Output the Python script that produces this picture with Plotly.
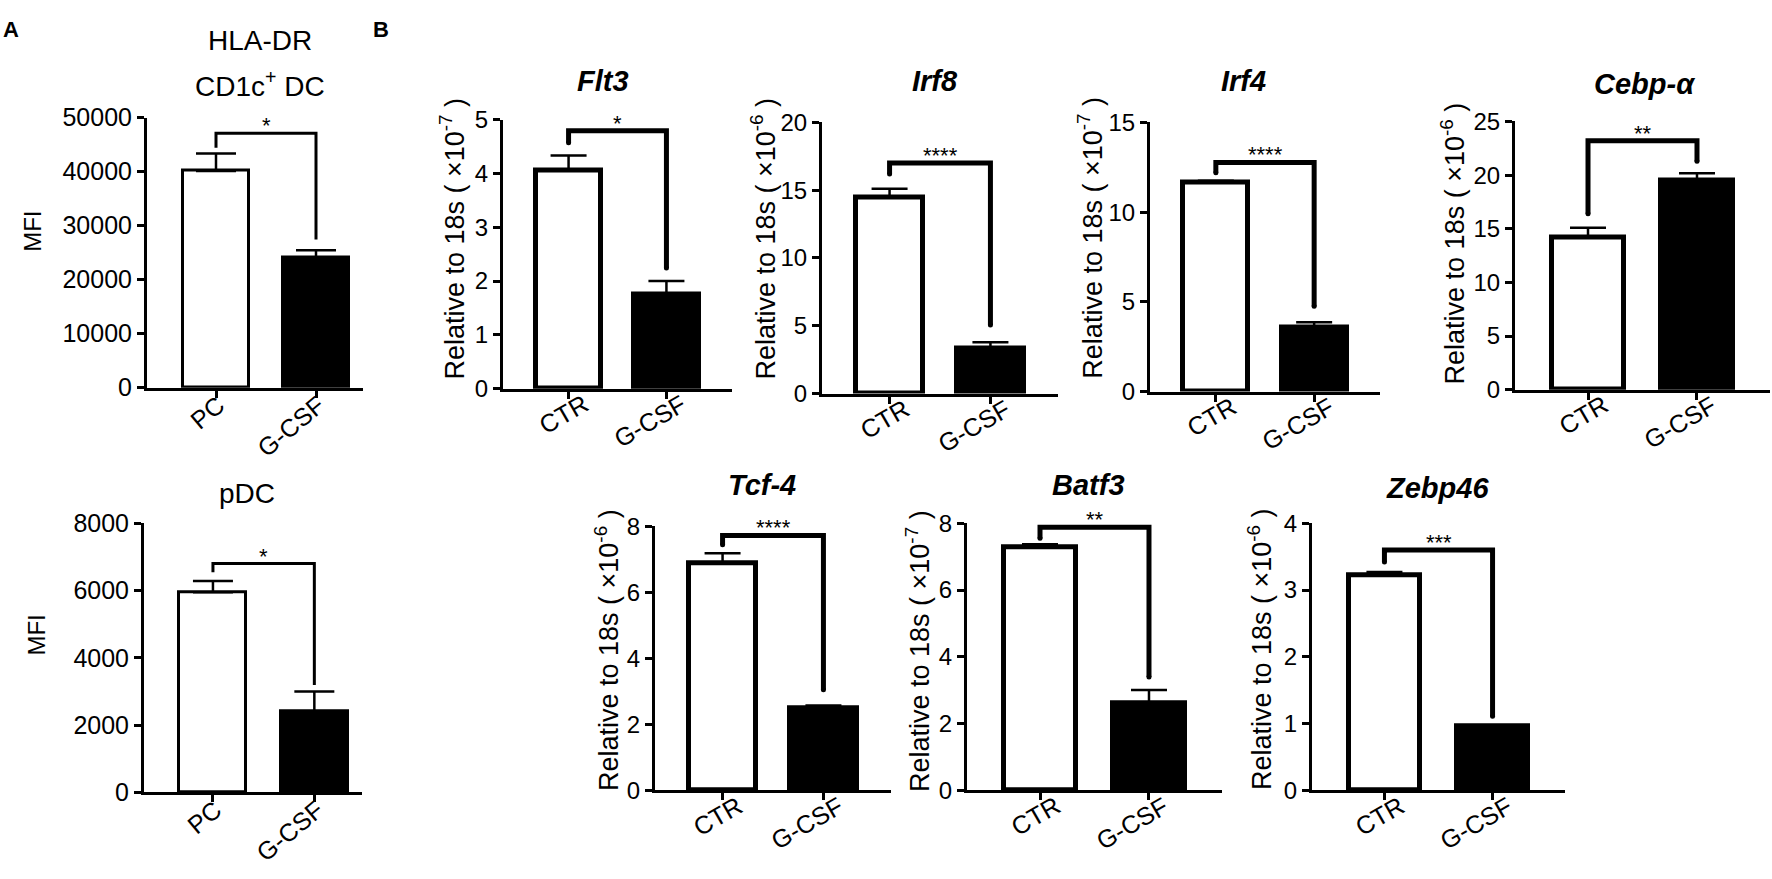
import plotly.graph_objects as go

W, H = 1772, 879

# ---- values ----
a_groups = ["PC", "G-CSF"]
b_groups = ["CTR", "G-CSF"]

# mean, upper end of the error bar, bracket (left leg end, height, right leg end)
hla_mean = [40100, 24000]
hla_upper = [43370, 25450]
hla_bracket = [44440, 47080, 27420]

pdc_mean = [5950, 2400]
pdc_upper = [6280, 3000]
pdc_bracket = [6540, 6800, 3190]

flt3_mean = [4.05, 1.75]
flt3_upper = [4.33, 2.0]
flt3_bracket = [4.57, 4.79, 2.24]

irf8_mean = [14.45, 3.3]
irf8_upper = [15.1, 3.79]
irf8_bracket = [16.2, 17.0, 5.05]

irf4_mean = [11.65, 3.6]
irf4_upper = [11.75, 3.87]
irf4_bracket = [12.19, 12.77, 4.76]

cebp_mean = [14.2, 19.5]
cebp_upper = [15.1, 20.17]
cebp_bracket = [16.4, 23.2, 21.3]

tcf4_mean = [6.88, 2.49]
tcf4_upper = [7.18, 2.57]
tcf4_bracket = [7.44, 7.72, 3.05]

batf3_mean = [7.28, 2.62]
batf3_upper = [7.37, 3.01]
batf3_bracket = [7.55, 7.88, 3.40]

zebp_mean = [3.22, 0.96]
zebp_upper = [3.27, 0.97]
zebp_bracket = [3.42, 3.6, 1.11]

# ---- panel table: data + where each panel sits (pixels) ----
panels = [
    dict(title="", groups=a_groups, mean=hla_mean, upper=hla_upper, br=hla_bracket, stars="*",
         ymax=50000, dtick=10000, exp=None, box=(147, 363, 107, 386), xr=(-0.69, 1.47),
         lab=(33, 225), big=True),
    dict(title="", groups=a_groups, mean=pdc_mean, upper=pdc_upper, br=pdc_bracket, stars="*",
         ymax=8000, dtick=2000, exp=None, box=(144, 362, 526, 804), xr=(-0.68, 1.47),
         lab=(37, 642), big=True),
    dict(title="Flt3", groups=b_groups, mean=flt3_mean, upper=flt3_upper, br=flt3_bracket, stars="*",
         ymax=5, dtick=1, exp=-7, box=(503, 732, 109, 387), xr=(-0.67, 1.67),
         lab=(452, 232), big=False, tpos=(603, 69)),
    dict(title="Irf8", groups=b_groups, mean=irf8_mean, upper=irf8_upper, br=irf8_bracket, stars="****",
         ymax=20, dtick=5, exp=-6, box=(822, 1058, 112, 392), xr=(-0.67, 1.67),
         lab=(763, 232), big=False, tpos=(935, 69)),
    dict(title="Irf4", groups=b_groups, mean=irf4_mean, upper=irf4_upper, br=irf4_bracket, stars="****",
         ymax=15, dtick=5, exp=-7, box=(1150, 1380, 112, 390), xr=(-0.67, 1.67),
         lab=(1090, 231), big=False, tpos=(1243, 69)),
    dict(title="Cebp-α", groups=b_groups, mean=cebp_mean, upper=cebp_upper, br=cebp_bracket, stars="**",
         ymax=25, dtick=5, exp=-6, box=(1515, 1770, 111, 388), xr=(-0.67, 1.67),
         lab=(1453, 237), big=False, tpos=(1644, 72)),
    dict(title="Tcf-4", groups=b_groups, mean=tcf4_mean, upper=tcf4_upper, br=tcf4_bracket, stars="****",
         ymax=8, dtick=2, exp=-6, box=(655, 891, 529, 802), xr=(-0.67, 1.67),
         lab=(607, 657), big=False, tpos=(762, 487)),
    dict(title="Batf3", groups=b_groups, mean=batf3_mean, upper=batf3_upper, br=batf3_bracket, stars="**",
         ymax=8, dtick=2, exp=-7, box=(967, 1222, 526, 802), xr=(-0.67, 1.67),
         lab=(918, 658), big=False, tpos=(1088, 486)),
    dict(title="Zebp46", groups=b_groups, mean=zebp_mean, upper=zebp_upper, br=zebp_bracket, stars="***",
         ymax=4, dtick=1, exp=-6, box=(1312, 1565, 526, 802), xr=(-0.67, 1.67),
         lab=(1260, 656), big=False, tpos=(1437, 490)),
]

FONT = "Liberation Sans, Arial, sans-serif"


def px(x):
    return x / W


def py(y):
    return 1 - y / H


fig = go.Figure()
layout = {}
annotations = []

for i, p in enumerate(panels, start=1):
    xa = "x" if i == 1 else f"x{i}"
    ya = "y" if i == 1 else f"y{i}"
    left, right, top, bottom = p["box"]
    big = p["big"]
    lw = 3 if big else 5
    pos = [0, 1]

    err = [u - m for u, m in zip(p["upper"], p["mean"])]
    fig.add_trace(go.Bar(
        x=pos, y=p["mean"], width=0.66, xaxis=xa, yaxis=ya,
        marker=dict(color=["white", "black"], line=dict(color="black", width=lw)),
        error_y=dict(type="data", array=err, arrayminus=[0, 0], symmetric=False,
                     color="black", thickness=2.5, width=20 if big else 18),
        hoverinfo="skip",
    ))
    l_end, h, r_end = p["br"]
    fig.add_trace(go.Scatter(
        x=[0, 0, 1, 1], y=[l_end, h, h, r_end], mode="lines", xaxis=xa, yaxis=ya,
        line=dict(color="black", width=3 if big else 5), cliponaxis=False, hoverinfo="skip",
    ))
    if not big:
        fig.add_trace(go.Scatter(
            x=[0, 1], y=[l_end, r_end], mode="markers", xaxis=xa, yaxis=ya,
            marker=dict(color="black", size=5), cliponaxis=False, hoverinfo="skip",
        ))

    tick_font = dict(family=FONT, size=25 if big else 24, color="black")
    layout[f"xaxis{'' if i == 1 else i}"] = dict(
        domain=[px(left), px(right)], anchor=ya, range=list(p["xr"]),
        tickvals=pos, showticklabels=False,
        showline=True, linecolor="black", linewidth=3,
        ticks="outside", ticklen=7, tickwidth=3, tickcolor="black",
        showgrid=False, zeroline=False,
    )
    layout[f"yaxis{'' if i == 1 else i}"] = dict(
        domain=[py(bottom), py(top)], anchor=xa, range=[0, p["ymax"]],
        tickmode="linear", tick0=0, dtick=p["dtick"], tickformat="d",
        showline=True, linecolor="black", linewidth=3,
        ticks="outside", ticklen=7, tickwidth=3, tickcolor="black",
        showgrid=False, zeroline=False, tickfont=tick_font,
    )

    # rotated group labels under the ticks
    for k, g in zip(pos, p["groups"]):
        annotations.append(dict(
            x=k, y=0, xref=xa, yref=ya, text=g, showarrow=False,
            textangle=-40 if big else -30, xanchor="right", yanchor="top",
            xshift=17 if big else 27, yshift=0 if big else 2,
            font=dict(family=FONT, size=25 if big else 25, color="black"),
        ))

    # significance stars
    annotations.append(dict(
        x=0.5, y=h, xref=xa, yref=ya, text=p["stars"], showarrow=False,
        yanchor="bottom", yshift=-7, font=dict(family=FONT, size=22, color="black"),
    ))
    # y label
    if p["exp"] is None:
        ytxt, ysize = "MFI", 24
    else:
        ytxt, ysize = f"Relative to 18s ( ×10<sup>{p['exp']}</sup> )", 27
    annotations.append(dict(
        x=px(p["lab"][0]), y=py(p["lab"][1]), xref="paper", yref="paper",
        text=ytxt, textangle=-90, showarrow=False, xanchor="center", yanchor="middle",
        font=dict(family=FONT, size=ysize, color="black"),
    ))
    if p["title"]:
        annotations.append(dict(
            x=px(p["tpos"][0]), y=py(p["tpos"][1]), xref="paper", yref="paper",
            text=p["title"], showarrow=False, xanchor="center", yanchor="middle",
            font=dict(family=FONT, size=29, color="black", weight="bold", style="italic"),
        ))

# panel A titles and panel letters
for txt, x, y in [("HLA-DR", 260, 27), ("CD1c<sup>+</sup> DC", 260, 72), ("pDC", 247, 495)]:
    annotations.append(dict(x=px(x), y=py(y), xref="paper", yref="paper", text=txt,
                            showarrow=False, xanchor="center", yanchor="middle",
                            font=dict(family=FONT, size=28, color="black")))
for txt, x, y in [("A", 11, 16), ("B", 381, 16)]:
    annotations.append(dict(x=px(x), y=py(y), xref="paper", yref="paper", text=txt,
                            showarrow=False, xanchor="center", yanchor="middle",
                            font=dict(family=FONT, size=22, color="black", weight="bold")))

fig.update_layout(
    width=W, height=H, margin=dict(l=0, r=0, t=0, b=0, pad=0),
    plot_bgcolor="white", paper_bgcolor="white", showlegend=False,
    bargap=0, annotations=annotations, **layout,
)

fig.write_html("out.html", config={"displayModeBar": False},
               post_script="document.body.style.margin='0px';")
